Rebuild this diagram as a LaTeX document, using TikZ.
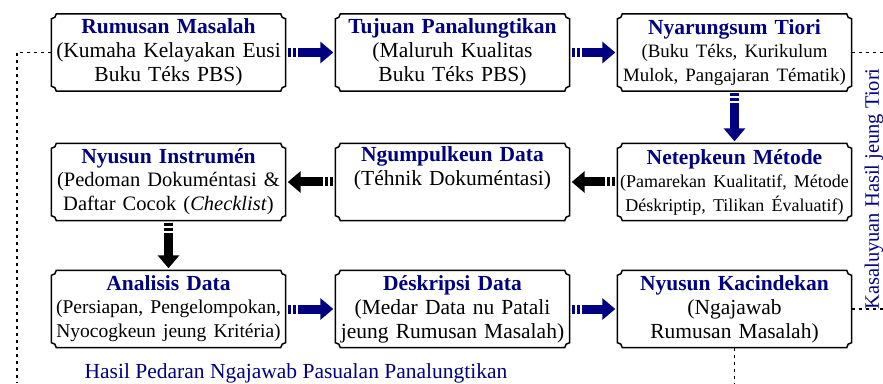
\documentclass[tikz,border=0pt]{standalone}
\usepackage{fontspec}
\setmainfont{Liberation Serif}
\usetikzlibrary{arrows.meta,calc}
\definecolor{navy}{RGB}{0,0,128}
\newcommand{\judul}[1]{{\color{navy}\bfseries #1}}
\newcommand{\ukuran}[1]{\fontsize{#1}{23}\selectfont}

\begin{document}
\begin{tikzpicture}[
		x=1pt, y=1pt,
		blok/.style={minimum width=232pt, minimum height=77pt, text width=234pt, inner sep=0pt, align=center, font=\fontsize{21.5}{24}\selectfont},
		bingkai/.style={line width=1.5pt},
		panah/.style={draw=#1, line width=9pt, dash pattern=on 3pt off 2pt on 3pt off 2pt on 300pt off 0pt, -{Triangle[length=13pt,width=21pt,fill=#1]}, shorten <=2pt, shorten >=2pt},
		titik/.style={line width=1.5pt, dash pattern=on 3pt off 4pt},
		ket/.style={text=navy, font=\fontsize{21.5}{24}\selectfont}]
	\useasboundingbox (0,0) rectangle (883,383);
	%% define boxes
	\node (rumusan) at (168.5,330.5) [blok] {\judul{Rumusan Masalah}\\(Kumaha Kelayakan Eusi\\Buku Téks PBS)};
	\node (tujuan) at (452.5,330.5) [blok] {\judul{Tujuan Panalungtikan}\\(Maluruh Kualitas\\Buku Téks PBS)};
	\node (tiori) at (734.5,330.5) [blok] {\judul{Nyarungsum Tiori}\\{\ukuran{18.9}(Buku Téks, Kurikulum\\Mulok, Pangajaran Tématik)}};
	\node (instrumen) at (168.5,201) [blok] {\judul{Nyusun Instrumén}\\{\ukuran{20.5}(Pedoman Dokuméntasi \&\\Daftar Cocok (\textit{Checklist})}};
	\node (ngumpulkeun) at (452.5,201) [blok] {\judul{Ngumpulkeun Data}\\(Téhnik Dokuméntasi)\\\strut};
	\node (metode) at (734.5,201) [blok] {\judul{Netepkeun Métode}\\{\ukuran{18}(Pamarekan Kualitatif, Métode\\Déskriptip, Tilikan Évaluatif)}};
	\node (analisis) at (168.5,74) [blok] {\judul{Analisis Data}\\{\ukuran{19.5}(Persiapan, Pengelompokan,\\Nyocogkeun jeung Kritéria)}};
	\node (deskripsi) at (452.5,74) [blok] {\judul{Déskripsi Data}\\(Medar Data nu Patali\\jeung Rumusan Masalah)};
	\node (kacindekan) at (734.5,74) [blok] {\judul{Nyusun Kacindekan}\\(Ngajawab\\Rumusan Masalah)};
	%% frames with notched corners
	\def\r{5}
	\foreach \n in {rumusan,tujuan,tiori,instrumen,ngumpulkeun,metode,analisis,deskripsi,kacindekan}
		\draw[bingkai] ($(\n.north west)+(\r,0)$) -- ($(\n.north east)+(-\r,0)$) arc[start angle=180,end angle=270,radius=\r]
			-- ($(\n.south east)+(0,\r)$) arc[start angle=90,end angle=180,radius=\r]
			-- ($(\n.south west)+(\r,0)$) arc[start angle=0,end angle=90,radius=\r]
			-- ($(\n.north west)+(0,-\r)$) arc[start angle=270,end angle=360,radius=\r] -- cycle;
	%% define arrows
	\draw[panah=navy] (rumusan) -- (tujuan);
	\draw[panah=navy] (tujuan) -- (tiori);
	\draw[panah=navy] (tiori) -- (metode);
	\draw[panah=black] (metode) -- (ngumpulkeun);
	\draw[panah=black] (ngumpulkeun) -- (instrumen);
	\draw[panah=black] (instrumen) -- (analisis);
	\draw[panah=navy] (analisis) -- (deskripsi);
	\draw[panah=navy] (deskripsi) -- (kacindekan);
	%% dotted feedback lines
	\coordinate (kiri) at (17,0);
	\coordinate (katuhuluhur) at (883,330.5);
	\coordinate (katuhuhandap) at (883,74);
	\coordinate (handap) at (734.5,0);
	\draw[titik] (rumusan.west) -| (kiri);
	\draw[titik] (tiori.east) -- (katuhuluhur);
	\draw[titik] (kacindekan.east) -- (katuhuhandap);
	\draw[titik] (kacindekan.south) -- (handap);
	\node (kasaluyuan) at (874,194) [ket, rotate=90, font=\fontsize{20.5}{22}\selectfont] {Kasaluyuan Hasil jeung Tiori};
	\node (hasil) at (296,10) [ket] {Hasil Pedaran Ngajawab Pasualan Panalungtikan};
\end{tikzpicture}
\end{document}
